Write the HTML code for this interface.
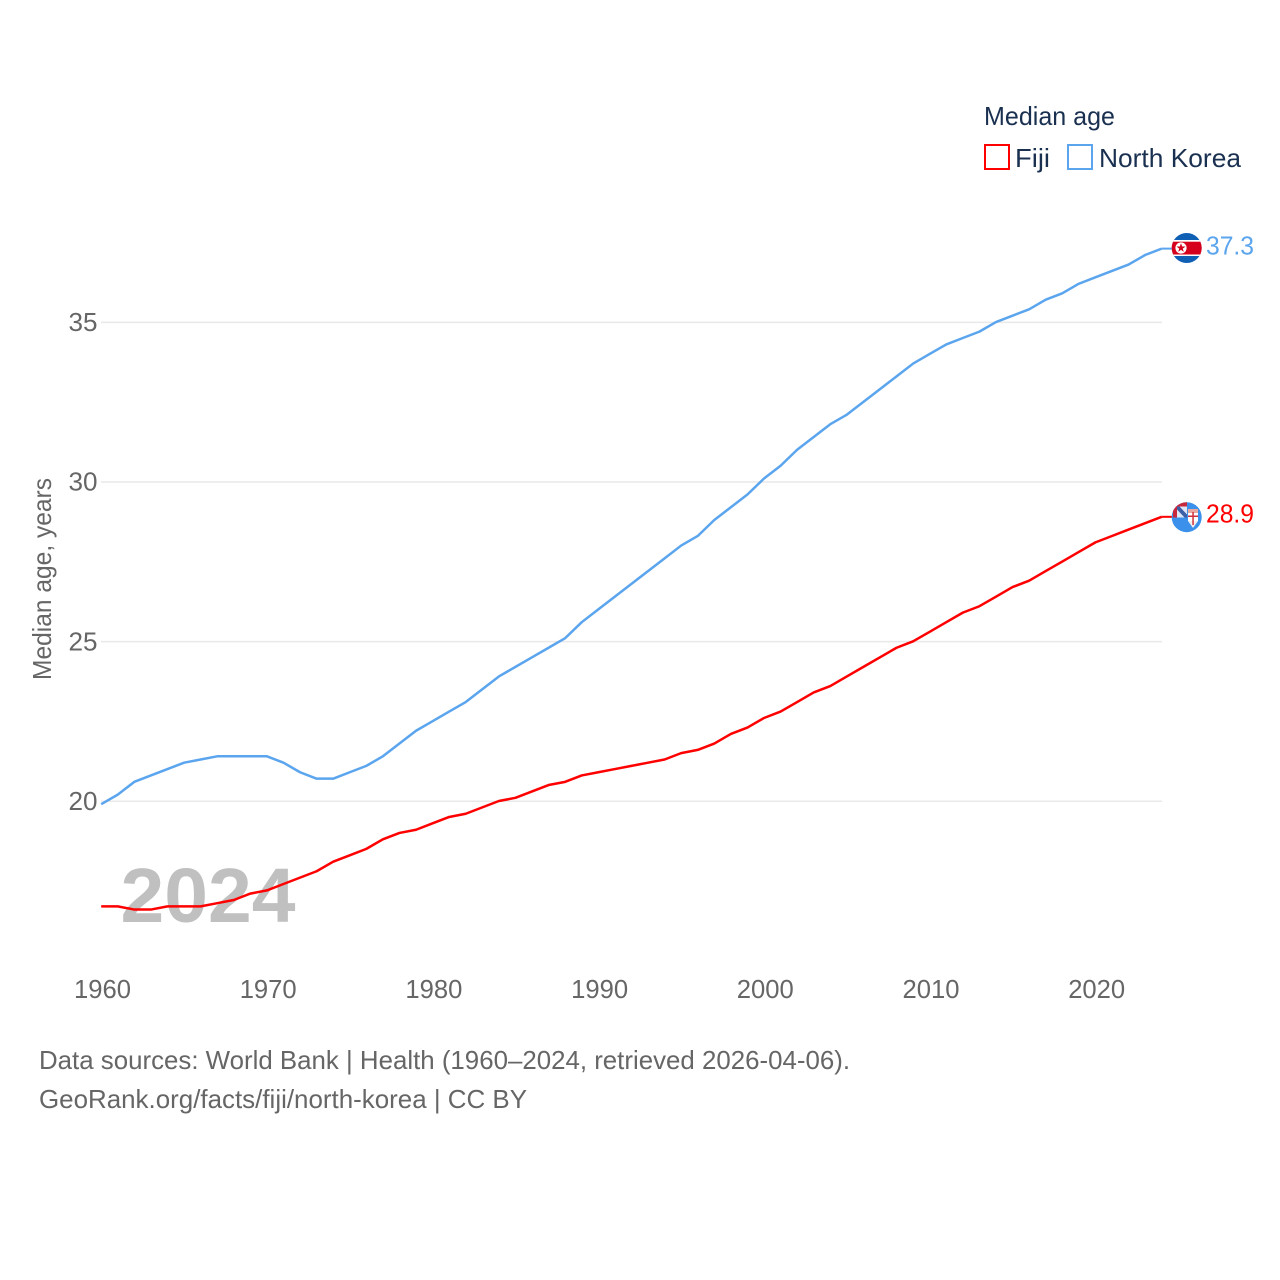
<!DOCTYPE html>
<html lang="en">
<head>
<meta charset="utf-8">
<title>Median age: Fiji and North Korea</title>
<style>
html,body{margin:0;padding:0;background:#fff;width:1280px;height:1280px;overflow:hidden}
svg{display:block}
text{font-family:"Liberation Sans",sans-serif}
</style>
</head>
<body>
<svg id="chart" xmlns="http://www.w3.org/2000/svg" width="1280" height="1280" viewBox="0 0 1280 1280">
  <defs>
    <clipPath id="nk-clip"><circle cx="1186.7" cy="248" r="15"/></clipPath>
    <clipPath id="fj-clip"><circle cx="1186.7" cy="517.2" r="15"/></clipPath>
  </defs>
  <g id="grid"></g>
  <g id="yticks"></g>
  <g id="xticks"></g>
  <text x="120.500" y="922" font-size="77" font-weight="700" fill="#c0c0c0" textLength="175" lengthAdjust="spacingAndGlyphs">2024</text>
  <text transform="translate(51,680) rotate(-90)" font-size="26" fill="#666666" textLength="202" lengthAdjust="spacingAndGlyphs">Median age, years</text>
  <g id="series"></g>

  <g clip-path="url(#nk-clip)">
    <rect x="1171" y="232" width="32" height="32" fill="#0f5fb5"/>
    <rect x="1171" y="240" width="32" height="16" fill="#ffffff"/>
    <rect x="1171" y="241.700" width="32" height="12.800" fill="#d6001c"/>
    <circle cx="1181" cy="248" r="5.6" fill="#ffffff"/>
    <polygon points="1181,243.300 1182.200,246.500 1185.500,246.500 1182.800,248.600 1183.800,251.900 1181,249.900 1178.200,251.900 1179.200,248.600 1176.500,246.500 1179.800,246.500" fill="#d6001c"/>
  </g>
  <g clip-path="url(#fj-clip)">
    <rect x="1171" y="502" width="32" height="31" fill="#3a90ea"/>
    <rect x="1173" y="502" width="14" height="15.500" fill="#c8283c"/>
    <rect x="1177" y="506.500" width="10" height="11" fill="#dfe6f5"/>
    <polygon points="1177,506.500 1179.500,506.500 1187,514.500 1187,517.500 1184.500,517.500 1177,509.500" fill="#3d5fa8"/>
    <rect x="1188" y="509" width="10" height="5" fill="#e8a8a0"/>
    <rect x="1188" y="513" width="10" height="8" fill="#ffffff"/>
    <polygon points="1188,521 1198,521 1193,528" fill="#f4f0f0"/>
    <rect x="1192.300" y="512" width="1.500" height="13" fill="#d0303c"/>
    <rect x="1188" y="515.500" width="10" height="1.500" fill="#d0303c"/>
  </g>
  <g id="end-labels"></g>

  <g>
    <text x="984" y="125" font-size="26" fill="#1a3050" textLength="131" lengthAdjust="spacingAndGlyphs">Median age</text>
    <rect x="985" y="145" width="24" height="24" fill="none" stroke="#ff0000" stroke-width="2"/>
    <text x="1015" y="167" font-size="26" fill="#1a3050" textLength="35" lengthAdjust="spacingAndGlyphs">Fiji</text>
    <rect x="1068" y="145" width="24" height="24" fill="none" stroke="#5ba5ee" stroke-width="2"/>
    <text x="1099" y="167" font-size="26" fill="#1a3050" textLength="142" lengthAdjust="spacingAndGlyphs">North Korea</text>
  </g>

  <g>
    <text x="39" y="1069" font-size="26" fill="#666666" textLength="811" lengthAdjust="spacingAndGlyphs">Data sources: World Bank | Health (1960–2024, retrieved 2026-04-06).</text>
    <text x="39" y="1108" font-size="26" fill="#666666" textLength="488" lengthAdjust="spacingAndGlyphs">GeoRank.org/facts/fiji/north-korea | CC BY</text>
  </g>
</svg>
<script>
const years = [1960,1961,1962,1963,1964,1965,1966,1967,1968,1969,1970,1971,1972,1973,1974,1975,1976,1977,1978,1979,1980,1981,1982,1983,1984,1985,1986,1987,1988,1989,1990,1991,1992,1993,1994,1995,1996,1997,1998,1999,2000,2001,2002,2003,2004,2005,2006,2007,2008,2009,2010,2011,2012,2013,2014,2015,2016,2017,2018,2019,2020,2021,2022,2023,2024];
const fijiValues = [16.7,16.7,16.6,16.6,16.7,16.7,16.7,16.8,16.9,17.1,17.2,17.4,17.6,17.8,18.1,18.3,18.5,18.8,19.0,19.1,19.3,19.5,19.6,19.8,20.0,20.1,20.3,20.5,20.6,20.8,20.9,21.0,21.1,21.2,21.3,21.5,21.6,21.8,22.1,22.3,22.6,22.8,23.1,23.4,23.6,23.9,24.2,24.5,24.8,25.0,25.3,25.6,25.9,26.1,26.4,26.7,26.9,27.2,27.5,27.8,28.1,28.3,28.5,28.7,28.9];
const northKoreaValues = [19.9,20.2,20.6,20.8,21.0,21.2,21.3,21.4,21.4,21.4,21.4,21.2,20.9,20.7,20.7,20.9,21.1,21.4,21.8,22.2,22.5,22.8,23.1,23.5,23.9,24.2,24.5,24.8,25.1,25.6,26.0,26.4,26.8,27.2,27.6,28.0,28.3,28.8,29.2,29.6,30.1,30.5,31.0,31.4,31.8,32.1,32.5,32.9,33.3,33.7,34.0,34.3,34.5,34.7,35.0,35.2,35.4,35.7,35.9,36.2,36.4,36.6,36.8,37.1,37.3];
const xTickLabels = [1960,1970,1980,1990,2000,2010,2020];
const yTickLabels = [20,25,30,35];

const SVG_NS = 'http://www.w3.org/2000/svg';
const xScale = function (year) { return 101.2 + (year - 1960) * 16.57; };
const yScale = function (value) { return 801 - (value - 20) * 31.93; };

function make(tag, parent, attrs) {
  const el = document.createElementNS(SVG_NS, tag);
  Object.keys(attrs).forEach(function (k) { el.setAttribute(k, attrs[k]); });
  parent.appendChild(el);
  return el;
}

const gridGroup = document.getElementById('grid');
const yGroup = document.getElementById('yticks');
yTickLabels.forEach(function (v) {
  const line = make('line', gridGroup, {x1: 101, x2: 1162, y1: yScale(v) + 0.3, y2: yScale(v) + 0.3, stroke: '#e9e9e9', 'stroke-width': 1.5});
  
  
  const label = make('text', yGroup, {x: 97.5, y: yScale(v) + 9, 'text-anchor': 'end', 'font-size': 26, fill: '#666666', textLength: 29, lengthAdjust: 'spacingAndGlyphs'});
  
  
  label.textContent = v;
});

const xGroup = document.getElementById('xticks');
xTickLabels.forEach(function (y) {
  const label = make('text', xGroup, {x: xScale(y) + 1.3, y: 998, 'text-anchor': 'middle', 'font-size': 26, fill: '#666666', textLength: 57, lengthAdjust: 'spacingAndGlyphs'});
  
  
  label.textContent = y;
});

function pathFor(values) {
  return values.map(function (v, i) {
    return (i ? 'L' : 'M') + xScale(years[i]).toFixed(2) + ' ' + yScale(v).toFixed(2);
  }).join(' ');
}

const seriesGroup = document.getElementById('series');
const endGroup = document.getElementById('end-labels');

const fijiLine = make('path', seriesGroup, {d: pathFor(fijiValues), fill: 'none', stroke: '#ff0000', 'stroke-width': 2.5, 'stroke-linejoin': 'round'});



const nkLine = make('path', seriesGroup, {d: pathFor(northKoreaValues), fill: 'none', stroke: '#5ba5ee', 'stroke-width': 2.5, 'stroke-linejoin': 'round'});



const fijiLast = fijiValues[fijiValues.length - 1];
const nkLast = northKoreaValues[northKoreaValues.length - 1];
const lastYear = years[years.length - 1];

const fijiStub = make('line', seriesGroup, {x1: xScale(lastYear), x2: 1172, y1: yScale(fijiLast), y2: yScale(fijiLast), stroke: '#ff0000', 'stroke-width': 2});



const nkStub = make('line', seriesGroup, {x1: xScale(lastYear), x2: 1172, y1: yScale(nkLast), y2: yScale(nkLast), stroke: '#5ba5ee', 'stroke-width': 2});



const fijiLabel = make('text', endGroup, {x: 1206, y: 522.5, 'font-size': 26, fill: '#ff0000', textLength: 48, lengthAdjust: 'spacingAndGlyphs'});


fijiLabel.textContent = fijiLast.toFixed(1);

const nkLabel = make('text', endGroup, {x: 1206, y: 254.5, 'font-size': 26, fill: '#5ba5ee', textLength: 48, lengthAdjust: 'spacingAndGlyphs'});


nkLabel.textContent = nkLast.toFixed(1);
</script>
</body>
</html>
